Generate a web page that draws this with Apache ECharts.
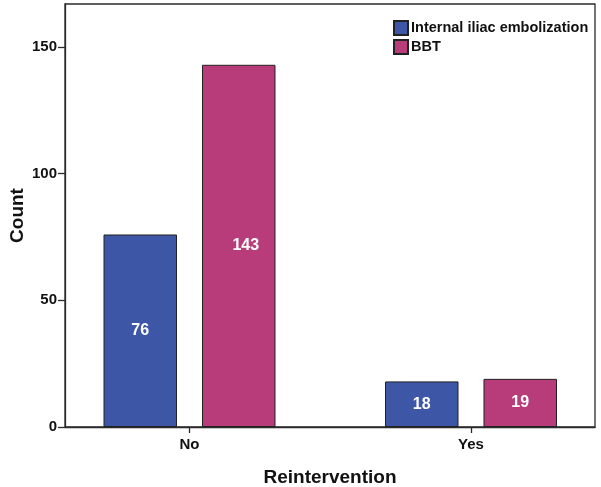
<!DOCTYPE html>
<html>
<head>
<meta charset="utf-8">
<script src="https://cdn.jsdelivr.net/npm/echarts@6/dist/echarts.min.js"></script>
<style>
html,body{margin:0;padding:0;background:#fff;}
#main{width:601px;height:487px;}
</style>
</head>
<body>
<div id="main"></div>
<script>
const categories = ['No', 'Yes'];
const seriesNames = ['Internal iliac embolization', 'BBT'];
const embolizationValues = [76, 18];
const bbtValues = [143, 19];
const yTickValues = [0, 50, 100, 150];

const FONT = '"Liberation Sans", Arial, sans-serif';
const chart = echarts.init(document.getElementById('main'), null, {renderer: 'canvas'});

const baseSeries = (name, data, color) => ({
  name: name,
  type: 'bar',
  xAxisIndex: 1,
  yAxisIndex: 1,
  data: data,
  barWidth: 73.5,
  barGap: '34%',
  itemStyle: {color: color, borderColor: '#222', borderWidth: 1},
  label: {
    show: true,
    position: 'inside',
    color: '#fff',
    fontFamily: FONT,
    fontWeight: 'bold',
    fontSize: 16
  },
  emphasis: {disabled: true}
});

const option = {
  animation: false,
  backgroundColor: '#fff',
  grid: [
    {left: 65, right: 6, top: 4, bottom: 60, show: true, borderColor: '#2a2a2a', borderWidth: 1.3, backgroundColor: 'transparent', outerBoundsMode: 'none'},
    {left: 48.75, width: 563, top: 4, bottom: 60, outerBoundsMode: 'none'}
  ],
  legend: {
    orient: 'vertical',
    left: 393,
    top: 20,
    padding: 0,
    itemWidth: 14,
    itemHeight: 14,
    itemGap: 3,
    icon: 'rect',
    data: seriesNames,
    textStyle: {fontFamily: FONT, fontWeight: 'bold', fontSize: 14.5, lineHeight: 14, color: '#111', padding: [0, 0, 0, -2]},
    selectedMode: false
  },
  xAxis: [
    {
      gridIndex: 0,
      type: 'category',
      data: categories,
      axisLine: {show: true, lineStyle: {color: '#2a2a2a', width: 1.3}},
      axisTick: {show: false},
      axisLabel: {show: false},
      name: 'Reintervention',
      nameLocation: 'middle',
      nameGap: 41,
      nameTextStyle: {fontFamily: FONT, fontWeight: 'bold', fontSize: 19, color: '#111'}
    },
    {
      gridIndex: 1,
      type: 'category',
      data: categories,
      axisLine: {show: false},
      axisTick: {show: true, alignWithLabel: true, length: 6, lineStyle: {color: '#2a2a2a', width: 1.3}},
      axisLabel: {fontFamily: FONT, fontWeight: 'bold', fontSize: 15, color: '#111', margin: 10}
    }
  ],
  yAxis: [
    {
      gridIndex: 0,
      type: 'value',
      min: 0,
      max: 167,
      interval: 50,
      splitLine: {show: false},
      axisLine: {show: true, lineStyle: {color: '#2a2a2a', width: 1.3}},
      axisTick: {show: true, length: 7, customValues: yTickValues, lineStyle: {color: '#2a2a2a', width: 1.3}},
      axisLabel: {customValues: yTickValues, fontFamily: FONT, fontWeight: 'bold', fontSize: 15, color: '#111', margin: 8},
      name: 'Count',
      nameLocation: 'middle',
      nameMoveOverlap: false,
      nameGap: 38,
      nameTextStyle: {fontFamily: FONT, fontWeight: 'bold', fontSize: 19, color: '#111'}
    },
    {
      gridIndex: 1,
      type: 'value',
      min: 0,
      max: 167,
      show: false,
      splitLine: {show: false}
    }
  ],
  series: [
    baseSeries(seriesNames[0], embolizationValues, '#3D56A6'),
    baseSeries(seriesNames[1], bbtValues.map((v, i) => i === 0 ? {value: v, label: {offset: [7, 0]}} : v), '#B83C7A')
  ]
};
chart.setOption(option);
</script>
</body>
</html>
